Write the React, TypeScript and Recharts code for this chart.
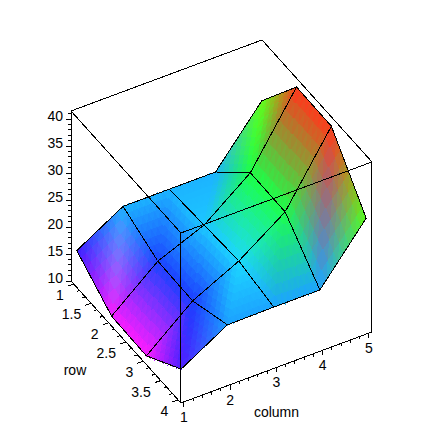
import { ScatterChart, Scatter, XAxis, YAxis } from 'recharts';

const rows = [1, 2, 3, 4];
const columns = [1, 2, 3, 4, 5];

// height, one list per row, one value per column
const row1 = [16, 21, 21, 21, 31];
const row2 = [11, 18, 21.5, 28, 40.7];
const row3 = [10.8, 17.8, 22, 27.9, 40.6];
const row4 = [15.5, 20.5, 20.6, 20.6, 30.7];
const surface = [row1, row2, row3, row4];

const heightTicks = [10, 15, 20, 25, 30, 35, 40];
const rowTicks = [1, 1.5, 2, 2.5, 3, 3.5, 4];
const columnTicks = [1, 2, 3, 4, 5];

const SIZE = 443;
const FONT = '"Liberation Sans", Arial, sans-serif';
const STEPS = 8;

// box limits of the 3d view
const rowMin = 0.92;
const rowMax = 4.08;
const colMin = 0.935;
const colMax = 5.065;
const zMin = 10;
const zMax = 41.48;

// orthographic view: (row, column, height) -> point on the chart plane
const project = (r: number, c: number, z: number) => ({
  x: 71 + (r - rowMin) * 34.8 + (c - colMin) * 46.25,
  y: 281 + (r - rowMin) * 38.6 - (c - colMin) * 17.2 - (z - zMin) * 5.4,
});

const allZ = surface.flat();
const lowZ = Math.min(...allZ);
const highZ = Math.max(...allZ);

// maple style zhue: low values magenta, high values orange-red, a little washed out
const hueColor = (z: number) => {
  const h = (7 + (293 * (highZ - z)) / (highZ - lowZ)) / 60;
  const f = (n: number) => {
    const k = (n + h) % 6;
    return 28 + 227 * (1 - Math.max(0, Math.min(k, 4 - k, 1)));
  };
  return [f(5), f(3), f(1)];
};

type P = { x: number; y: number };

// one gouraud triangle, cut into small flat pieces
const triangle = (pts: P[], colors: number[][], id: string) => {
  const out = [];
  const at = (i: number, j: number) => {
    const u = i / STEPS;
    const v = j / STEPS;
    const w = 1 - u - v;
    return { x: pts[0].x * w + pts[1].x * u + pts[2].x * v, y: pts[0].y * w + pts[1].y * u + pts[2].y * v };
  };
  const shade = (u: number, v: number) =>
    colors[0].map((c, k) => Math.round(c * (1 - u - v) + colors[1][k] * u + colors[2][k] * v));
  const piece = (corners: P[], u: number, v: number, key: string) => {
    const rgb = shade(u, v);
    const fill = `rgb(${rgb[0]},${rgb[1]},${rgb[2]})`;
    out.push(
      <polygon
        key={key}
        points={corners.map((p) => `${p.x},${p.y}`).join(' ')}
        fill={fill}
        stroke={fill}
        strokeWidth={1}
        shapeRendering="crispEdges"
      />
    );
  };
  for (let i = 0; i < STEPS; i++) {
    for (let j = 0; j < STEPS - i; j++) {
      piece([at(i, j), at(i + 1, j), at(i, j + 1)], (i + 1 / 3) / STEPS, (j + 1 / 3) / STEPS, `${id}a${i}-${j}`);
      if (i + j < STEPS - 1) {
        piece([at(i + 1, j), at(i + 1, j + 1), at(i, j + 1)], (i + 2 / 3) / STEPS, (j + 2 / 3) / STEPS, `${id}b${i}-${j}`);
      }
    }
  }
  return out;
};

const cellLine = (colors: number[][]) => (props: any) => {
  const [a, b, c, d] = props.points as P[];
  const outline = `M${a.x},${a.y}L${b.x},${b.y}L${c.x},${c.y}L${d.x},${d.y}Z`;
  return (
    <g>
      {triangle([a, b, d], [colors[0], colors[1], colors[3]], 'far')}
      {triangle([c, b, d], [colors[2], colors[1], colors[3]], 'near')}
      <path d={outline} fill="none" stroke="#000" strokeWidth={1} shapeRendering="crispEdges" />
    </g>
  );
};

// data comes in pairs of end points
const segmentLine = (props: any) => {
  const pts = props.points as P[];
  let d = '';
  for (let i = 0; i + 1 < pts.length; i += 2) {
    d += `M${pts[i].x},${pts[i].y}L${pts[i + 1].x},${pts[i + 1].y}`;
  }
  return <path d={d} fill="none" stroke="#000" strokeWidth={1} shapeRendering="crispEdges" />;
};

const noDot = () => null;

const cells: { points: P[]; colors: number[][] }[] = [];
// painter's order, far corner of the surface first
rows.slice(0, -1).forEach((_, ri) => {
  for (let ci = columns.length - 2; ci >= 0; ci--) {
    const corners = [
      [ri, ci],
      [ri, ci + 1],
      [ri + 1, ci + 1],
      [ri + 1, ci],
    ];
    cells.push({
      points: corners.map(([i, j]) => project(rows[i], columns[j], surface[i][j])),
      colors: corners.map(([i, j]) => hueColor(surface[i][j])),
    });
  }
});

const boxBack = [
  project(rowMin, colMin, zMax),
  project(rowMin, colMax, zMax),
  project(rowMin, colMax, zMax),
  project(rowMax, colMax, zMax),
];

const boxFront = [
  project(rowMin, colMin, zMax),
  project(rowMax, colMin, zMax),
  project(rowMax, colMin, zMax),
  project(rowMax, colMax, zMax),
  project(rowMax, colMin, zMax),
  project(rowMax, colMin, zMin),
  project(rowMin, colMin, zMax),
  project(rowMin, colMin, zMin),
  project(rowMax, colMax, zMax),
  project(rowMax, colMax, zMin),
  project(rowMin, colMin, zMin),
  project(rowMax, colMin, zMin),
  project(rowMax, colMin, zMin),
  project(rowMax, colMax, zMin),
];

const tickPairs = (values: number[], at: (v: number) => P, dx: number, dy: number) =>
  values.flatMap((v) => {
    const p = at(v);
    return [p, { x: p.x + dx, y: p.y + dy }];
  });

const between = (ticks: number[], parts: number) =>
  ticks.slice(0, -1).flatMap((t, i) => {
    const out = [];
    for (let k = 1; k < parts; k++) out.push(t + ((ticks[i + 1] - t) * k) / parts);
    return out;
  });

const zAt = (v: number) => project(rowMin, colMin, v);
const rowAt = (v: number) => project(v, colMin, zMin);
const colAt = (v: number) => project(rowMax, v, zMin);

const tickSegments = [
  ...tickPairs(heightTicks, zAt, -5, 0),
  ...tickPairs([...between(heightTicks, 5), 41], zAt, -3, 0),
  ...tickPairs(rowTicks, rowAt, -6, 2),
  ...tickPairs(between(rowTicks, 3), rowAt, -3, 1),
  ...tickPairs(columnTicks, colAt, 0, 5),
  ...tickPairs(between(columnTicks, 5), colAt, 0, 3),
];

const withLabel = (values: number[], at: (v: number) => P) =>
  values.map((v) => ({ ...at(v), label: String(v) }));

const labelShape = (dx: number, dy: number, anchor: string) => (props: any) => (
  <text
    x={props.cx + dx}
    y={props.cy + dy}
    textAnchor={anchor}
    dominantBaseline="central"
    fontFamily={FONT}
    fontSize={14}
    fill="#000"
  >
    {props.payload.label}
  </text>
);

const rowTitle = [{ ...project(2.5, colMin, zMin), label: 'row' }];
const columnTitle = [{ ...project(rowMax, 3, zMin), label: 'column' }];

export default function App() {
  return (
    <div style={{ position: 'absolute', left: 0, top: 0, background: '#fff' }}>
      <ScatterChart width={SIZE} height={SIZE} margin={{ top: 0, right: 0, bottom: 0, left: 0 }}>
        <XAxis type="number" dataKey="x" domain={[0, SIZE]} hide />
        <YAxis type="number" dataKey="y" domain={[0, SIZE]} reversed hide />
        <Scatter data={boxBack} line={segmentLine} shape={noDot} isAnimationActive={false} />
        {cells.map((cell, i) => (
          <Scatter
            key={i}
            data={cell.points}
            line={cellLine(cell.colors)}
            shape={noDot}
            isAnimationActive={false}
          />
        ))}
        <Scatter data={boxFront} line={segmentLine} shape={noDot} isAnimationActive={false} />
        <Scatter data={tickSegments} line={segmentLine} shape={noDot} isAnimationActive={false} />
        <Scatter data={withLabel(heightTicks, zAt)} shape={labelShape(-8, -3, 'end')} isAnimationActive={false} />
        <Scatter data={withLabel(rowTicks, rowAt)} shape={labelShape(-10, 11, 'end')} isAnimationActive={false} />
        <Scatter data={withLabel(columnTicks, colAt)} shape={labelShape(0, 15, 'middle')} isAnimationActive={false} />
        <Scatter data={rowTitle} shape={labelShape(-51, 28, 'middle')} isAnimationActive={false} />
        <Scatter data={columnTitle} shape={labelShape(0, 45, 'middle')} isAnimationActive={false} />
      </ScatterChart>
    </div>
  );
}
